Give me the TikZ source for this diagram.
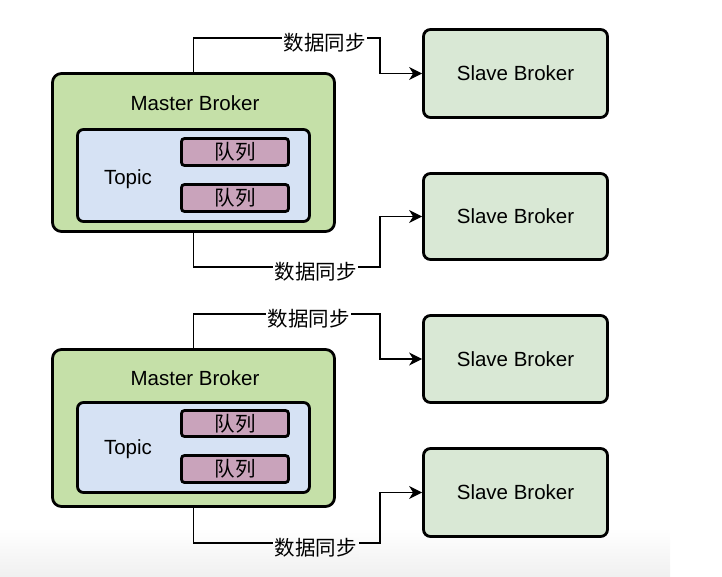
\documentclass[tikz,border=0pt]{standalone}
\usepackage{fontspec}
\setmainfont{Liberation Sans}
\newfontfamily\cjk{Noto Sans CJK SC}
\usetikzlibrary{arrows.meta}
\definecolor{mgreen}{HTML}{C5E0A8}
\definecolor{sgreen}{HTML}{D9E8D5}
\definecolor{tblue}{HTML}{D6E2F4}
\definecolor{qpink}{HTML}{C9A3BB}
\tikzset{
  masterbox/.style={draw=black, line width=2.8pt, fill=mgreen, rounded corners=9pt, minimum width=282pt, inner sep=0pt},
  topicbox/.style={draw=black, line width=2.8pt, fill=tblue, rounded corners=6pt, minimum width=232pt, inner sep=0pt},
  queuebox/.style={draw=black, line width=2.8pt, fill=qpink, rounded corners=3pt, minimum width=107pt, minimum height=27pt, inner sep=0pt, font=\fontsize{20.5}{24}\selectfont\cjk},
  slavebox/.style={draw=black, line width=2.8pt, fill=sgreen, rounded corners=7pt, minimum width=184pt, inner sep=0pt},
  plain/.style={inner sep=0pt},
  conn/.style={draw=black, line width=1.3pt, -{Stealth[length=13pt,width=13pt,inset=4pt]}},
  lbl/.style={fill=white, inner sep=1.5pt, font=\fontsize{20.5}{24}\selectfont\cjk, yshift=-5pt},
  lblgrey/.style={lbl, top color=black!1.3, bottom color=black!4}
}
\begin{document}
\begin{tikzpicture}[x=1pt,y=-1pt,font=\fontsize{20.5}{24}\selectfont]
\useasboundingbox (0,0) rectangle (722,577);
% faint grey band at the foot of the picture
\fill[top color=white, bottom color=black!6, draw=none] (0,528) rectangle (670,577);

% ---------- section 1 ----------
\node[masterbox, minimum height=158pt] (m1) at (193.5,152.5) {};
\node[plain] (m1t) at (195,103) {Master Broker};
\node[topicbox, minimum height=92pt] (t1) at (193.5,175.5) {};
\node[plain] (t1t) at (128,179) {Topic};
\node[queuebox] (q11) at (235,152) {队列};
\node[queuebox] (q12) at (235,198) {队列};
\node[slavebox, minimum height=88pt] (s1) at (515.5,73.5) {Slave Broker};
\node[slavebox, minimum height=86pt] (s2) at (515.5,216.5) {Slave Broker};
\coordinate (j1) at (380,38);
\coordinate (j2) at (380,267);
\draw[conn] (m1.north) |- node[lbl, pos=0.852] {数据同步} (j1) |- (s1.west);
\draw[conn] (m1.south) |- node[lbl, pos=0.828] {数据同步} (j2) |- (s2.west);

% ---------- section 2 ----------
\node[masterbox, minimum height=157pt] (m2) at (193.5,428) {};
\node[plain] (m2t) at (195,378) {Master Broker};
\node[topicbox, minimum height=90pt] (t2) at (193.5,447.5) {};
\node[plain] (t2t) at (128,449) {Topic};
\node[queuebox, minimum height=26pt] (q21) at (235,423.5) {队列};
\node[queuebox] (q22) at (235,469) {队列};
\node[slavebox, minimum height=87pt] (s3) at (515.5,359) {Slave Broker};
\node[slavebox, minimum height=88pt] (s4) at (515.5,492.5) {Slave Broker};
\coordinate (j3) at (380,314);
\coordinate (j4) at (380,543);
\draw[conn] (m2.north) |- node[lbl, pos=0.809] {数据同步} (j3) |- (s3.west);
\draw[conn] (m2.south) |- node[lblgrey, pos=0.828] {数据同步} (j4) |- (s4.west);
\end{tikzpicture}
\end{document}
